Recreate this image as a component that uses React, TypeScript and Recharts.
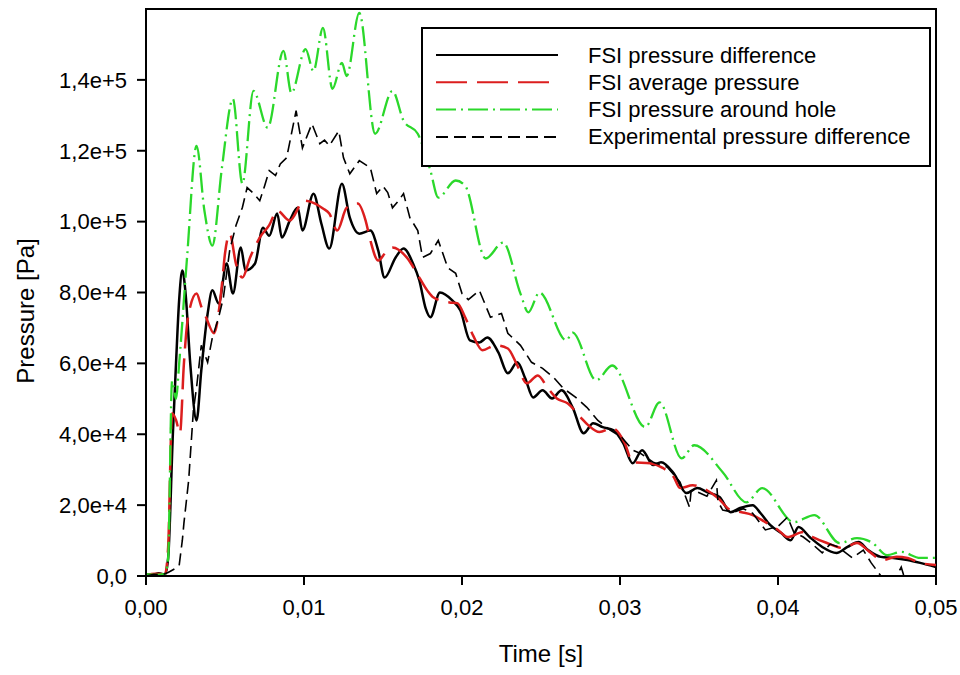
import { LineChart, Line, XAxis, YAxis, ReferenceArea, Legend, Label } from "recharts"

const FONT = '"Liberation Sans", Arial, Helvetica, sans-serif'

const xTicks = [0, 0.01, 0.02, 0.03, 0.04, 0.05]
const yTicks = [0, 20000, 40000, 60000, 80000, 100000, 120000, 140000]

// [time s, pressure Pa]
const fsiDifference: [number, number][] = [
  [0, 500], [0.0004, 300], [0.0008, 800], [0.0012, 400], [0.0014, 5000], [0.0017, 40000],
  [0.0019, 60000], [0.0021, 78000], [0.0023, 86200], [0.0025, 80000], [0.0028, 60000],
  [0.0032, 43900], [0.0035, 58000], [0.0039, 74000], [0.0042, 80600], [0.0046, 76900],
  [0.0051, 88200], [0.0055, 79700], [0.006, 92700], [0.0063, 86200], [0.0069, 88200],
  [0.0074, 98300], [0.0078, 96000], [0.0083, 102300], [0.0086, 95500], [0.0091, 100300],
  [0.0096, 103900], [0.0099, 97500], [0.0106, 107900], [0.0111, 99400], [0.0116, 92400],
  [0.0124, 110700], [0.0129, 101100], [0.0135, 96600], [0.0142, 97500], [0.0147, 91800],
  [0.0151, 84200], [0.0158, 89900], [0.0163, 92400], [0.0169, 88200], [0.0173, 83400],
  [0.0177, 75500], [0.018, 73000], [0.0186, 80000], [0.0194, 77700], [0.0199, 74900],
  [0.0205, 66500], [0.0211, 65900], [0.0216, 67300], [0.0223, 63100], [0.0229, 57200],
  [0.0235, 60300], [0.024, 55800], [0.0245, 50400], [0.0251, 52400], [0.0257, 50100],
  [0.0263, 52400], [0.027, 47600], [0.0277, 40300], [0.0283, 43100], [0.0289, 42000],
  [0.0296, 41100], [0.0302, 37500], [0.0308, 31800], [0.0314, 35500], [0.0321, 31300],
  [0.0326, 32100], [0.0334, 29000], [0.0342, 23400], [0.0349, 24800], [0.0355, 23700],
  [0.0363, 22300], [0.037, 18000], [0.0376, 19200], [0.0384, 20000], [0.0389, 17700],
  [0.0395, 14400], [0.0402, 12100], [0.0408, 10100], [0.0413, 13800], [0.042, 11000],
  [0.0428, 8200], [0.0437, 6500], [0.0444, 8200], [0.0451, 9600], [0.0457, 7300],
  [0.0465, 5400], [0.0473, 5100], [0.0482, 4500], [0.049, 3700], [0.05, 2500],
]

const fsiAverage: [number, number][] = [
  [0, 300], [0.0006, 600], [0.0012, 500], [0.0014, 8000], [0.00165, 45900], [0.0019, 44000],
  [0.00215, 40300], [0.0024, 60000], [0.00266, 73000], [0.0032, 79700], [0.0035, 76000],
  [0.0038, 73000], [0.0043, 68500], [0.0048, 82000], [0.005, 91000], [0.0053, 96600],
  [0.0057, 88000], [0.0061, 84200], [0.0066, 90000], [0.0072, 95500], [0.0078, 99000],
  [0.0083, 103100], [0.0091, 100300], [0.01, 105900], [0.0107, 105100], [0.0112, 103700],
  [0.0116, 102300], [0.0121, 97500], [0.0127, 103900], [0.0134, 105100], [0.0139, 100300],
  [0.0142, 94700], [0.0147, 89000], [0.0152, 91500], [0.0156, 92700], [0.0165, 89900],
  [0.0173, 84200], [0.0178, 80600], [0.0182, 78600], [0.0192, 77200], [0.0197, 77000],
  [0.0202, 73000], [0.0207, 67900], [0.0213, 63700], [0.0221, 65100], [0.0229, 64200],
  [0.0235, 59400], [0.0241, 54400], [0.0248, 56600], [0.0254, 53200], [0.026, 50100],
  [0.0267, 48700], [0.0275, 44800], [0.028, 42500], [0.0287, 40600], [0.0295, 41700],
  [0.0303, 37500], [0.0308, 32100], [0.0319, 31800], [0.0327, 30500], [0.0334, 27900],
  [0.0338, 24800], [0.0346, 25600], [0.0355, 24200], [0.0362, 22000], [0.037, 18600],
  [0.0377, 18000], [0.0384, 17200], [0.0392, 15200], [0.04, 13000], [0.0406, 11000],
  [0.0416, 12400], [0.0422, 11000], [0.0431, 9300], [0.0441, 7900], [0.045, 9300],
  [0.0458, 6800], [0.0466, 4500], [0.0475, 5400], [0.0482, 5100], [0.049, 3700], [0.05, 3100],
]

const fsiHole: [number, number][] = [
  [0, 500], [0.0006, 300], [0.0012, 600], [0.0014, 5000], [0.00165, 55000], [0.0019, 50000],
  [0.0021, 60000], [0.0026, 90000], [0.0032, 121400], [0.0037, 103000], [0.0042, 93200],
  [0.0048, 115000], [0.0055, 134600], [0.0061, 110700], [0.0068, 136900], [0.0077, 126500],
  [0.0087, 148200], [0.0092, 136300], [0.0101, 148700], [0.0106, 142500], [0.0112, 154700],
  [0.0118, 137500], [0.0124, 144800], [0.0127, 141100], [0.0135, 158900], [0.0145, 124800],
  [0.0156, 136900], [0.0163, 128500], [0.0172, 124800], [0.018, 114400], [0.0185, 106800],
  [0.0196, 111600], [0.0202, 110100], [0.0215, 89600], [0.0226, 94100], [0.0237, 79700],
  [0.0242, 74400], [0.0249, 80000], [0.0266, 66500], [0.027, 68700], [0.0285, 55200],
  [0.0295, 59400], [0.0316, 42000], [0.0325, 49000], [0.0339, 33200], [0.0347, 36900],
  [0.0365, 29300], [0.038, 20800], [0.039, 24800], [0.041, 15200], [0.0423, 17200],
  [0.0439, 9300], [0.045, 10700], [0.046, 9300], [0.0469, 5900], [0.0478, 6800],
  [0.049, 5100], [0.05, 5100],
]

const experimental: [number, number][] = [
  [0, 0], [0.0005, 500], [0.001, 300], [0.0014, 1000], [0.0018, 2000], [0.0021, 3000],
  [0.0023, 10100], [0.0024, 14900], [0.0027, 27000], [0.003, 46800], [0.0032, 53200],
  [0.0035, 65100], [0.0039, 60300], [0.0042, 67300], [0.0046, 73000], [0.0049, 78600],
  [0.0053, 92000], [0.0057, 99000], [0.0061, 104000], [0.0064, 109600], [0.0068, 108000],
  [0.0072, 105900], [0.0075, 110000], [0.0078, 114400], [0.0082, 113000], [0.0085, 116300],
  [0.0089, 118000], [0.0095, 131300], [0.0099, 120800], [0.0105, 127600], [0.011, 122000],
  [0.0113, 123000], [0.0116, 121400], [0.0122, 125600], [0.0125, 118000], [0.0129, 113500],
  [0.0135, 117200], [0.0142, 115200], [0.0146, 107900], [0.015, 110000], [0.0153, 108200],
  [0.0156, 103900], [0.016, 106000], [0.0163, 107900], [0.0167, 101100], [0.0172, 97500],
  [0.0175, 89900], [0.018, 91000], [0.0185, 94700], [0.0191, 87000], [0.0196, 85400],
  [0.02, 79700], [0.0204, 78000], [0.0211, 80600], [0.0218, 73000], [0.0225, 74100],
  [0.0229, 68500], [0.0237, 65100], [0.0244, 60300], [0.0251, 58600], [0.0258, 56000],
  [0.0264, 53000], [0.0272, 50400], [0.0279, 47600], [0.0286, 43900], [0.0294, 41100],
  [0.0301, 39200], [0.0308, 35500], [0.0313, 34600], [0.0321, 32100], [0.033, 30700],
  [0.0338, 26500], [0.0344, 19400], [0.0345, 24000], [0.0349, 23700], [0.0355, 22500],
  [0.0361, 27000], [0.0362, 21000], [0.0365, 18600], [0.0372, 18000], [0.0378, 19000],
  [0.0384, 17700], [0.0392, 13000], [0.04, 14000], [0.0406, 16600], [0.041, 12400],
  [0.0416, 11000], [0.0421, 9300], [0.0428, 6500], [0.0433, 9000], [0.0438, 8200],
  [0.0447, 5100], [0.0454, 7300], [0.0459, 3700], [0.0466, -500], [0.047, -3000],
  [0.0474, -1000], [0.0478, 2500], [0.0481, -2000], [0.0485, -4000],
]

const series = [
  { name: "FSI pressure difference", rows: fsiDifference, color: "#000000", width: 2.5, dash: undefined, curve: "monotone" },
  { name: "FSI average pressure", rows: fsiAverage, color: "#dc1e1e", width: 2.5, dash: "31 10", curve: "monotone" },
  { name: "FSI pressure around hole", rows: fsiHole, color: "#2bd82b", width: 2.3, dash: "20 5 2 5", curve: "monotone" },
  { name: "Experimental pressure difference", rows: experimental, color: "#000000", width: 1.6, dash: "12 6", curve: "linear" },
] as const

const formatTime = (v: number) => v.toFixed(2).replace(".", ",")
const formatPressure = (v: number) => (v === 0 ? "0,0" : v.toExponential(1).replace(".", ","))

function ChartLegend() {
  return (
    <div style={{ width: 510, height: 140, boxSizing: "border-box", border: "2px solid #000", background: "#fff" }}>
      <svg width={506} height={136} style={{ display: "block" }}>
        {series.map((s, i) => {
          const y = 26 + i * 27.3
          return (
            <g key={s.name}>
              <line x1={13} x2={135} y1={y} y2={y} stroke={s.color} strokeWidth={2} strokeDasharray={s.dash} />
              <text x={165} y={y} dominantBaseline="central" fontSize={22} fontFamily={FONT} fill="#000">
                {s.name}
              </text>
            </g>
          )
        })}
      </svg>
    </div>
  )
}

export default function App() {
  const tickStyle = { fill: "#000", fontSize: 22, fontFamily: FONT }
  const axisStroke = { stroke: "#000", strokeWidth: 2 }

  return (
    <div style={{ position: "absolute", left: 0, top: 0, background: "#fff" }}>
      <LineChart width={960} height={675} margin={{ top: 9, right: 24, bottom: 0, left: 0 }} style={{ fontFamily: FONT }}>
        <XAxis
          type="number"
          dataKey="t"
          domain={[0, 0.05]}
          ticks={xTicks}
          tickFormatter={formatTime}
          height={99}
          tickSize={9}
          tickMargin={14}
          tick={tickStyle}
          axisLine={axisStroke}
          tickLine={axisStroke}
          allowDataOverflow
        >
          <Label
            content={() => (
              <text x={541} y={662} textAnchor="middle" fontSize={24} fontFamily={FONT} fill="#000">
                Time [s]
              </text>
            )}
          />
        </XAxis>
        <YAxis
          type="number"
          domain={[0, 160000]}
          ticks={yTicks}
          tickFormatter={formatPressure}
          width={146}
          tickSize={9}
          tickMargin={10}
          tick={tickStyle}
          axisLine={axisStroke}
          tickLine={axisStroke}
          allowDataOverflow
        >
          <Label
            content={() => (
              <text
                x={25}
                y={311}
                transform="rotate(-90 25 311)"
                textAnchor="middle"
                dominantBaseline="central"
                fontSize={24}
                fontFamily={FONT}
                fill="#000"
              >
                Pressure [Pa]
              </text>
            )}
          />
        </YAxis>
        <ReferenceArea x1={0} x2={0.05} y1={0} y2={160000} fill="none" stroke="#000" strokeWidth={2} />
        {series.map((s) => (
          <Line
            key={s.name}
            data={s.rows.map(([t, p]) => ({ t, p }))}
            dataKey="p"
            name={s.name}
            type={s.curve}
            stroke={s.color}
            strokeWidth={s.width}
            strokeDasharray={s.dash}
            dot={false}
            activeDot={false}
            isAnimationActive={false}
          />
        ))}
        <Legend
          layout="vertical"
          align="center"
          verticalAlign="middle"
          content={() => <ChartLegend />}
          wrapperStyle={{ left: 421, top: 27, width: 510, height: 140, margin: 0 }}
        />
      </LineChart>
    </div>
  )
}
